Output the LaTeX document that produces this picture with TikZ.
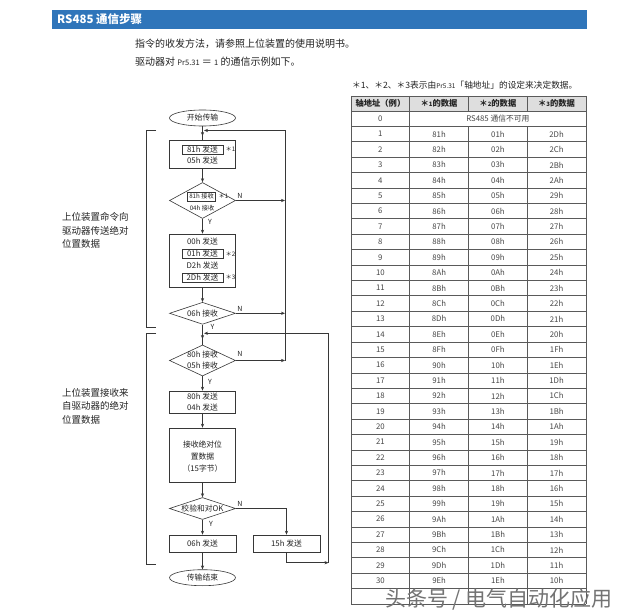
\documentclass[tikz,border=0pt]{standalone}
\usepackage{fontspec}
\setmainfont{Noto Sans CJK SC}
\usetikzlibrary{shapes.geometric,arrows.meta,calc}
\definecolor{barblue}{RGB}{47,117,186}
\definecolor{lncol}{RGB}{55,55,55}
\definecolor{txt}{RGB}{35,35,35}
\definecolor{ttxt}{RGB}{70,70,70}
\definecolor{hdrgray}{RGB}{222,222,222}
\definecolor{tbl}{RGB}{90,90,90}
\begin{document}
\begin{tikzpicture}[x=1pt,y=-1pt,
  ln/.style={draw=lncol, line width=0.6pt},
  arr/.style={ln, -{Stealth[length=4pt,width=3.2pt]}},
  ft/.style={font=\fontsize{7.8}{9}\selectfont, text=txt},
  fts/.style={font=\fontsize{6.2}{7}\selectfont, text=txt},
  proc/.style={draw=lncol, line width=0.6pt, minimum width=66pt, inner sep=0pt, ft},
  dec/.style={diamond, draw=lncol, line width=0.6pt, inner sep=0pt, minimum width=66pt},
  term/.style={ellipse, draw=lncol, line width=0.6pt, minimum width=66pt, minimum height=16pt, inner sep=0pt, ft},
  ibox/.style={draw=lncol, line width=0.5pt, inner sep=0pt, minimum width=41pt, minimum height=9pt, ft},
  yn/.style={font=\fontsize{7}{8}\selectfont, text=txt, inner sep=0pt},
  lbl/.style={font=\fontsize{9.5}{13.5}\selectfont, text=txt, align=left, anchor=north west, inner sep=0pt},
  tcell/.style={font=\fontsize{7.8}{9}\selectfont, text=ttxt, inner sep=0pt},
  thead/.style={font=\fontsize{8.3}{9}\selectfont\bfseries, text=txt, inner sep=0pt},
  tline/.style={draw=tbl, line width=0.6pt},
]
\useasboundingbox (0,0) rectangle (640,612);
\fill[white] (0,0) rectangle (640,612);

% ---------- header ----------
\fill[barblue] (52,10) rectangle (587,29);
\node[anchor=west, text=white, font=\fontsize{11.5}{12}\selectfont\bfseries, inner sep=0pt] (title) at (57,19.5) {RS485 通信步骤};
\node[anchor=west, font=\fontsize{10}{12}\selectfont, text=txt, inner sep=0pt] (l1) at (135,44) {指令的收发方法，请参照上位装置的使用说明书。};
\node[anchor=west, font=\fontsize{10}{12}\selectfont, text=txt, inner sep=0pt] (l2) at (135,62) {驱动器对 {\fontsize{7.5}{8}\selectfont Pr5.31} ＝ {\fontsize{7.5}{8}\selectfont 1} 的通信示例如下。};
\node[anchor=west, font=\fontsize{8.7}{10}\selectfont, text=txt, inner sep=0pt] (note) at (352,85) {＊1、＊2、＊3表示由{\fontsize{6.5}{8}\selectfont Pr5.31}「轴地址」的设定来决定数据。};

% ---------- flowchart ----------
\node[term] (start) at (202.5,118) {开始传输};
\coordinate (j1) at (202.5,130.5);
\coordinate (j1tip) at (202.5,136);
\coordinate (j1r) at (204,130.5);

\node[proc, minimum height=28pt] (box1) at (202.5,154) {};
\node[ibox] (b1a) at (202.5,149.5) {81h 发送};
\node[fts] (b1s) at (230.5,149.5) {＊1};
\node[ft, inner sep=0pt] (b1b) at (202.5,161) {05h 发送};

\node[dec, minimum height=36pt] (d1) at (202.5,200.5) {};
\node[ibox, minimum width=28pt, minimum height=9pt, fts] (d1a) at (201.5,196.3) {81h 接收};
\node[fts] (d1s) at (223.5,196.3) {＊1};
\node[fts] (d1b) at (202,207.7) {04h 接收};

\node[proc, minimum height=53pt] (box2) at (202.5,260.5) {};
\node[ft, inner sep=0pt] (b2a) at (202.5,241.5) {00h 发送};
\node[ibox] (b2b) at (202.5,253.7) {01h 发送};
\node[fts] (b2bs) at (230.5,254) {＊2};
\node[ft, inner sep=0pt] (b2c) at (202.5,265.5) {D2h 发送};
\node[ibox] (b2d) at (202.5,277.3) {2Dh 发送};
\node[fts] (b2ds) at (230.5,277.3) {＊3};

\node[dec, minimum height=22pt] (d2) at (202.5,313.3) {};
\node[ft] (d2t) at (202.5,313.3) {06h 接收};
\coordinate (j2) at (202.5,333.3);
\coordinate (j2tip) at (202.5,339);
\coordinate (j2r) at (204,333.3);

\node[dec, minimum height=31pt] (d3) at (202.5,360.5) {};
\node[ft] (d3a) at (202.5,354.5) {80h 接收};
\node[ft] (d3b) at (202.5,365.5) {05h 接收};

\node[proc, minimum height=22pt] (box3) at (202.5,402) {};
\node[ft] (b3a) at (202.5,397) {80h 发送};
\node[ft] (b3b) at (202.5,408) {04h 发送};

\node[proc, minimum height=54pt] (box4) at (202.5,455) {};
\node[ft, align=center, font=\fontsize{7.8}{11.8}\selectfont] (b4t) at (202.5,456.5) {接收绝对位\\置数据\\（15字节）};

\node[dec, minimum height=22pt] (d4) at (202.5,508.5) {};
\node[ft] (d4t) at (202.5,508.5) {校验和对OK};

\node[proc, minimum width=67pt, minimum height=17pt] (b06) at (202.5,543.5) {06h 发送};
\node[proc, minimum width=67pt, minimum height=17pt] (b15) at (286.5,543.5) {15h 发送};
\node[term] (endn) at (202.5,577.7) {传输结束};

% right loop lines
\coordinate (r1top) at (285,130.5);
\coordinate (r1bot) at (285,360.5);
\coordinate (r2top) at (328.5,333.3);
\coordinate (r2bot) at (328.5,562.7);
\coordinate (b15c) at (286.5,562.7);

% connectors
\draw[arr] (start) -- (j1tip);
\draw[ln] (j1) -- (box1);
\draw[arr] (box1) -- (d1);
\draw[arr] (d1) -- (box2);
\draw[arr] (box2) -- (d2);
\draw[arr] (d2) -- (j2tip);
\draw[ln] (j2) -- (d3);
\draw[arr] (d3) -- (box3);
\draw[arr] (box3) -- (box4);
\draw[arr] (box4) -- (d4);
\draw[arr] (d4) -- (b06);
\draw[arr] (b06) -- (endn);

\draw[arr] (d1.east) -- (d1.east -| r1top);
\draw[arr] (d2.east) -- (d2.east -| r1top);
\draw[arr] (d3.east) -- (r1bot);
\draw[arr] (r1bot) -- (r1top) -- (j1r);

\draw[arr] (d4.east) -| (b15.north);
\draw[arr] (b15.south) -- (b15c) -- (r2bot);
\draw[arr] (r2bot) -- (r2top) -- (j2r);

% Y / N labels
\node[yn] (n1) at (240,195.5) {N};
\node[yn] (n2) at (240,308.5) {N};
\node[yn] (n3) at (240,353.5) {N};
\node[yn] (n4) at (240,503.5) {N};
\node[yn] (y1) at (210,222) {Y};
\node[yn] (y2) at (212.5,326.5) {Y};
\node[yn] (y3) at (210,382.3) {Y};
\node[yn] (y4) at (211,524.3) {Y};

% left brackets
\draw[ln] (156,130.5) -- (146,130.5) -- (146,327.7) -- (156,327.7);
\draw[ln] (156,333.3) -- (146,333.3) -- (146,564) -- (156,564);

\node[lbl] (lab1) at (62,212.5) {上位装置命令向\\驱动器传送绝对\\位置数据};
\node[lbl] (lab2) at (62,388) {上位装置接收来\\自驱动器的绝对\\位置数据};

% ---------- table ----------
\fill[hdrgray] (351,96) rectangle (586,111);
\draw[tline] (351,96) -- (586,96);
\foreach \k in {0,...,32} {
  \draw[tline] (351,{111+15.4*\k}) -- (586,{111+15.4*\k});
}
\draw[tline] (351,96) -- (351,603.8);
\draw[tline] (586,96) -- (586,603.8);
\draw[tline] (409.75,96) -- (409.75,603.8);
\draw[tline] (468.5,96) -- (468.5,111);
\draw[tline] (527.25,96) -- (527.25,111);
\draw[tline] (468.5,126.4) -- (468.5,603.8);
\draw[tline] (527.25,126.4) -- (527.25,603.8);

\node[thead] (h0) at (380.4,103.5) {轴地址（例）};
\node[thead] (h1) at (439.1,103.5) {＊{\fontsize{6}{7}\selectfont 1}的数据};
\node[thead] (h2) at (497.9,103.5) {＊{\fontsize{6}{7}\selectfont 2}的数据};
\node[thead] (h3) at (556.6,103.5) {＊{\fontsize{6}{7}\selectfont 3}的数据};

\node[tcell] (r0a) at (380.4,118.7) {0};
\node[tcell] (r0b) at (497.9,118.7) {RS485 通信不可用};

\foreach \n/\a/\b/\c in {1/81h/01h/2Dh,2/82h/02h/2Ch,3/83h/03h/2Bh,4/84h/04h/2Ah,5/85h/05h/29h,
  6/86h/06h/28h,7/87h/07h/27h,8/88h/08h/26h,9/89h/09h/25h,10/8Ah/0Ah/24h,11/8Bh/0Bh/23h,
  12/8Ch/0Ch/22h,13/8Dh/0Dh/21h,14/8Eh/0Eh/20h,15/8Fh/0Fh/1Fh,16/90h/10h/1Eh,17/91h/11h/1Dh,
  18/92h/12h/1Ch,19/93h/13h/1Bh,20/94h/14h/1Ah,21/95h/15h/19h,22/96h/16h/18h,23/97h/17h/17h,
  24/98h/18h/16h,25/99h/19h/15h,26/9Ah/1Ah/14h,27/9Bh/1Bh/13h,28/9Ch/1Ch/12h,29/9Dh/1Dh/11h,
  30/9Eh/1Eh/10h} {
  \node[tcell] (r\n a) at (380.4,{118.7+15.4*\n}) {\n};
  \node[tcell] (r\n b) at (439.1,{118.7+15.4*\n}) {\a};
  \node[tcell] (r\n c) at (497.9,{118.7+15.4*\n}) {\b};
  \node[tcell] (r\n d) at (556.6,{118.7+15.4*\n}) {\c};
}

% watermark
\node[font=\fontsize{21}{23}\selectfont, text=black!55, inner sep=0pt] (wm) at (499,599) {头条号 / 电气自动化应用};
\end{tikzpicture}
\end{document}
